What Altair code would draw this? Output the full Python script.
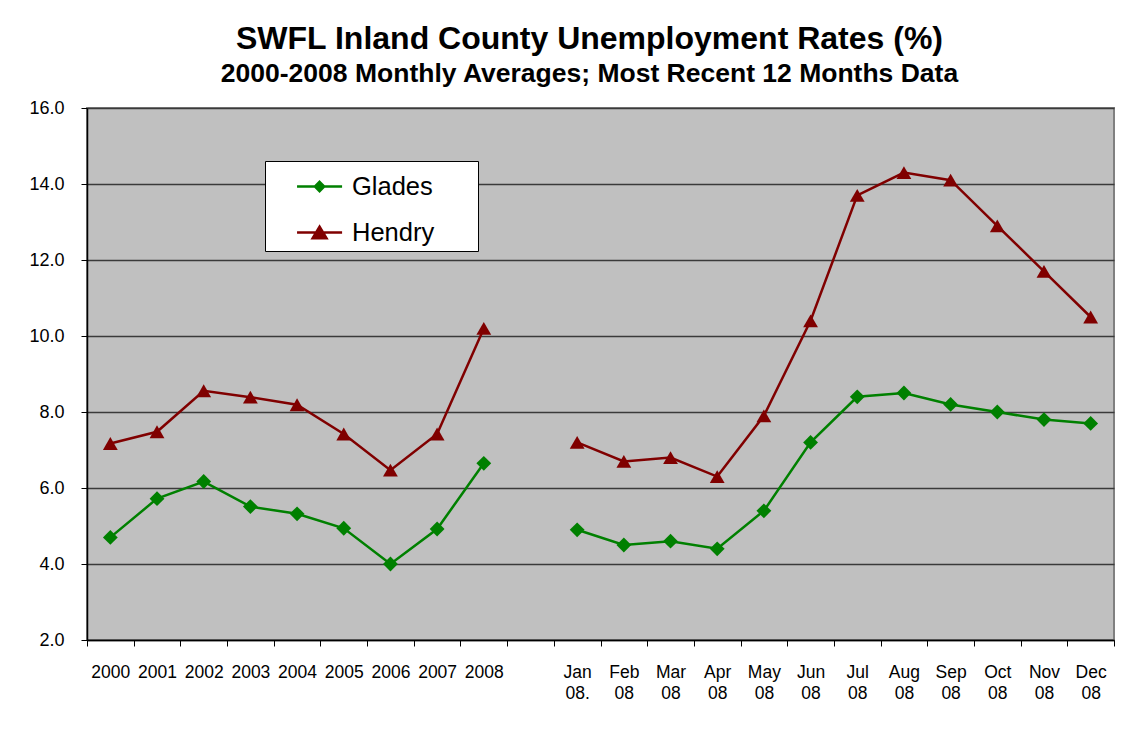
import altair as alt
import pandas as pd

years = ["2000", "2001", "2002", "2003", "2004", "2005", "2006", "2007", "2008"]
gap = [" "]
months = ["Jan\n08.", "Feb\n08", "Mar\n08", "Apr\n08", "May\n08", "Jun\n08",
          "Jul\n08", "Aug\n08", "Sep\n08", "Oct\n08", "Nov\n08", "Dec\n08"]

glades_annual = [4.70, 5.72, 6.17, 5.51, 5.32, 4.94, 4.00, 4.92, 6.65]
hendry_annual = [7.17, 7.48, 8.56, 8.39, 8.19, 7.42, 6.47, 7.42, 10.20]
glades_monthly = [4.9, 4.5, 4.6, 4.4, 5.4, 7.2, 8.4, 8.5, 8.2, 8.0, 7.8, 7.7]
hendry_monthly = [7.2, 6.7, 6.8, 6.3, 7.9, 10.4, 13.7, 14.3, 14.1, 12.9, 11.7, 10.5]

series = ["Glades", "Hendry"]
colors = ["#008000", "#800000"]
markers = ["diamond", "triangle-up"]

rows = []
for cat, g, h in zip(years, glades_annual, hendry_annual):
    rows.append({"cat": cat, "county": "Glades", "value": g, "seg": "annual"})
    rows.append({"cat": cat, "county": "Hendry", "value": h, "seg": "annual"})
for cat, g, h in zip(months, glades_monthly, hendry_monthly):
    rows.append({"cat": cat, "county": "Glades", "value": g, "seg": "monthly"})
    rows.append({"cat": cat, "county": "Hendry", "value": h, "seg": "monthly"})
df = pd.DataFrame(rows)

domain = years + gap + months

FONT = "Liberation Sans"

# legend glyphs (unit coordinates, shifted right inside the legend column)
glades_path = "M0.34,0H2.68M1.51,-0.24L1.75,0L1.51,0.24L1.27,0Z"
hendry_path = "M0.34,0H2.68M1.51,-0.3L1.87,0.3L1.15,0.3Z"
shape_expr = "datum.value === 'Glades' ? '%s' : '%s'" % (glades_path, hendry_path)
color_expr = "datum.value === 'Glades' ? '%s' : '%s'" % (colors[0], colors[1])
pad = "\u2800" * 2

x_enc = alt.X(
    "cat:N",
    scale=alt.Scale(domain=domain, paddingInner=0, paddingOuter=0),
    axis=alt.Axis(
        title=None,
        labelAngle=0,
        labelExpr="split(datum.label, '\\n')",
        labelFont=FONT,
        labelFontSize=17.5,
        labelColor="black",
        labelPadding=17,
        labelLineHeight=21,
        labelBaseline="top",
        tickBand="extent",
        tickSize=6,
        tickColor="black",
        domainColor="black",
        domainWidth=1.5,
        grid=False,
    ),
)

y_enc = alt.Y(
    "value:Q",
    scale=alt.Scale(domain=[2, 16], nice=False, zero=False),
    axis=alt.Axis(
        title=None,
        values=[2, 4, 6, 8, 10, 12, 14, 16],
        format=".1f",
        labelFont=FONT,
        labelFontSize=18,
        labelColor="black",
        labelPadding=17,
        tickSize=6,
        tickColor="black",
        domainColor="black",
        domainWidth=1.5,
        grid=True,
        gridColor="#3a3a3a",
        gridWidth=1.5,
    ),
)

color_scale = alt.Scale(domain=series, range=colors)

legend = alt.Legend(
    title=None,
    orient="none",
    legendX=178,
    legendY=53,
    fillColor="white",
    strokeColor="black",
    padding=5,
    symbolSize=1482,
    symbolStrokeWidth=2.5,
    symbolType=alt.ExprRef(expr=shape_expr),
    symbolStrokeColor=alt.ExprRef(expr=color_expr),
    symbolFillColor=alt.ExprRef(expr=color_expr),
    symbolOpacity=1,
    labelFont=FONT,
    labelFontSize=25.5,
    labelColor="black",
    labelOffset=41,
    labelExpr="datum.label + '%s'" % pad,
    rowPadding=12,
)

lines = alt.Chart(df).mark_line(strokeWidth=2.5).encode(
    x=x_enc,
    y=y_enc,
    color=alt.Color("county:N", scale=color_scale, legend=legend),
    detail="seg:N",
)

point_layers = []
for name, col, shp in zip(series, colors, markers):
    point_layers.append(
        alt.Chart(df)
        .transform_filter(alt.datum.county == name)
        .mark_point(filled=True, size=220, opacity=1, shape=shp, color=col)
        .encode(x=x_enc, y=y_enc)
    )

chart = (
    alt.layer(lines, *point_layers)
    .properties(
        width=1027,
        height=532,
        autosize=alt.AutoSizeParams(type="none"),
        padding={"left": 79, "top": 100, "right": 12, "bottom": 90},
        background="white",
        title=alt.TitleParams(
            text="SWFL Inland County Unemployment Rates (%)",
            subtitle="2000-2008 Monthly Averages; Most Recent 12 Months Data",
            font=FONT,
            fontSize=32,
            fontWeight="bold",
            color="black",
            subtitleFont=FONT,
            subtitleFontSize=26.5,
            subtitleFontWeight="bold",
            subtitleColor="black",
            subtitlePadding=5,
            anchor="middle",
            dx=-11,
            offset=11,
        ),
    )
    .configure_view(fill="#C0C0C0", stroke="#808080", strokeWidth=2)
)

chart.save("out.html", embed_options={"renderer": "svg", "actions": False})
